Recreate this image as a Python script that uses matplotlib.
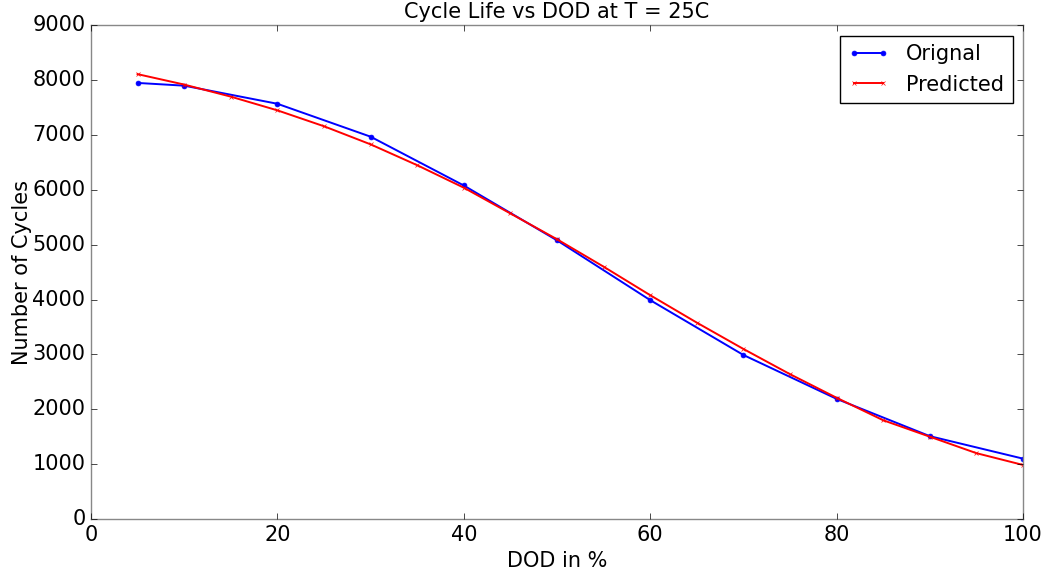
import matplotlib
matplotlib.use("Agg")
import matplotlib.pyplot as plt

plt.style.use('classic')

dod_orig = [5, 10, 20, 30, 40, 50, 60, 70, 80, 90, 100]
cycles_orig = [7950, 7900, 7570, 6970, 6080, 5080, 3990, 2990, 2190, 1510, 1100]

dod_pred = [5, 10, 15, 20, 25, 30, 35, 40, 45, 50, 55, 60, 65, 70, 75, 80, 85, 90, 95, 100]
cycles_pred = [8110, 7920, 7700, 7450, 7160, 6830, 6450, 6040, 5570, 5100,
               4600, 4080, 3580, 3100, 2640, 2210, 1800, 1500, 1200, 985]

fig = plt.figure(figsize=(10.46, 5.72), dpi=100, facecolor='white')
ax = fig.add_axes([0.087, 0.0927, 0.891, 0.863])

ax.plot(dod_orig, cycles_orig, color='blue', marker='.', markersize=7, linewidth=1.4, label='Orignal')
ax.plot(dod_pred, cycles_pred, color='red', marker='x', markersize=3, linewidth=1.4, label='Predicted')

ax.set_xlim(0, 100)
ax.set_ylim(0, 9000)
ax.set_xticks([0, 20, 40, 60, 80, 100])
ax.set_yticks(range(0, 9001, 1000))
ax.tick_params(labelsize=15, direction='in')
ax.set_title('Cycle Life vs DOD at T = 25C', fontsize=15)
ax.set_xlabel('DOD in %', fontsize=15)
ax.set_ylabel('Number of Cycles', fontsize=15, labelpad=0)
for s in ax.spines.values():
    s.set_color('#888888')
ax.legend(loc='upper right', fontsize=15, numpoints=2, fancybox=False)

fig.savefig('out.png', dpi=100, facecolor='white')
